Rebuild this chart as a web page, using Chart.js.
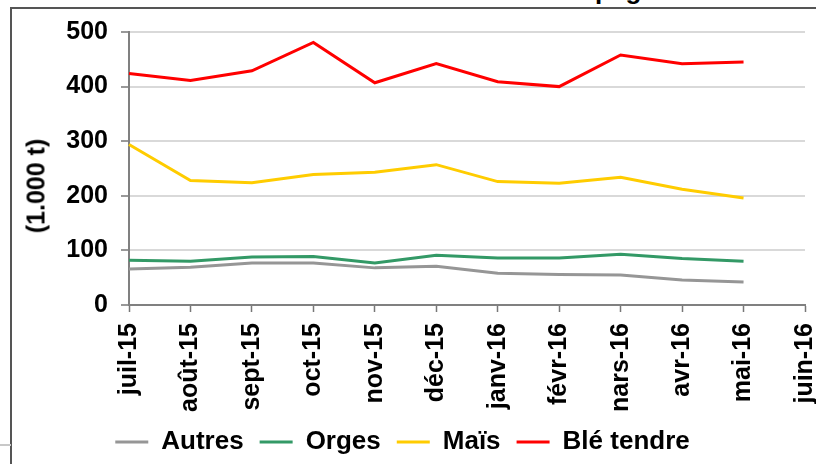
<!DOCTYPE html>
<html>
<head>
<meta charset="utf-8">
<script src="https://cdn.jsdelivr.net/npm/chart.js@4.4.1/dist/chart.umd.min.js"></script>
<style>
  body { margin: 0; background: #fff; }
  #wrap { position: relative; width: 816px; height: 464px; overflow: hidden; background: #fff; }
  #frame { position: absolute; left: 10px; top: 7px; width: 820px; height: 470px;
           border-left: 2px solid #555; border-top: 2px solid #555; }
  #stub { position: absolute; left: 0; top: 444px; width: 11px; height: 2px; background: #c8c8c8; }
  #title { position: absolute; left: 543px; top: -23px; font: bold 26px "Liberation Sans", Arial, sans-serif;
           line-height: 26px; white-space: nowrap; color: #000; }
  #ytitle { position: absolute; left: 36px; top: 186px; transform: translate(-50%, -50%) rotate(-90deg);
            font: bold 25px "Liberation Sans", Arial, sans-serif; white-space: nowrap; color: #000; }
  canvas { position: absolute; left: 0; top: 0; }
</style>
</head>
<body>
<div id="wrap">
  <div id="frame"></div>
  <div id="stub"></div>
  <div id="title">campagne</div>
  <canvas id="stockChart" width="816" height="465"></canvas>
  <div id="ytitle">(1.000 t)</div>
</div>
<script>
// months (last one has no data)
let months = ['juil-15', 'août-15', 'sept-15', 'oct-15', 'nov-15', 'déc-15',
              'janv-16', 'févr-16', 'nars-16', 'avr-16', 'mai-16', 'juin-16'];

// stocks in 1.000 t
let autres = [66, 69, 77, 77, 68, 71, 58, 56, 55, 46, 42];
let orges = [82, 80, 88, 89, 77, 91, 86, 86, 93, 85, 80];
let mais = [294, 228, 224, 239, 243, 257, 226, 223, 234, 212, 196];
let bleTendre = [424, 411, 429, 481, 407, 442, 409, 400, 458, 442, 445];

let yTicks = [0, 100, 200, 300, 400, 500];

let boldFont = { family: '"Liberation Sans", Arial, sans-serif', size: 25, weight: 'bold' };

let ctx = document.getElementById('stockChart').getContext('2d');

function serie(label, data, color) {
    return {
        label: label,
        data: data,
        borderColor: color,
        backgroundColor: color,
        borderWidth: 3,
        pointRadius: 0,
        tension: 0,
        fill: false
    };
}

let myChart = new Chart(ctx, {
    type: 'line',
    data: {
        labels: months,
        datasets: [
            serie('Autres', autres, '#969696'),
            serie('Orges', orges, '#339966'),
            serie('Maïs', mais, '#ffcc00'),
            serie('Blé tendre', bleTendre, '#ff0000')
        ]
    },
    options: {
        responsive: false,
        animation: false,
        layout: { padding: { top: 32, right: 11, left: 0, bottom: 0 } },
        plugins: {
            tooltip: { enabled: false },
            legend: {
                position: 'bottom',
                labels: {
                    color: '#000',
                    font: { family: boldFont.family, size: 26, weight: 'bold', lineHeight: 1 },
                    usePointStyle: true,
                    pointStyle: 'line',
                    pointStyleWidth: 33,
                    padding: 16
                }
            }
        },
        scales: {
            x: {
                offset: false,
                grid: { drawOnChartArea: false, drawTicks: true, tickLength: 7, tickColor: '#777', tickWidth: 1.5 },
                border: { color: '#808080', width: 2 },
                ticks: {
                    color: '#000',
                    font: boldFont,
                    autoSkip: false,
                    minRotation: 90,
                    maxRotation: 90,
                    padding: 11
                },
                afterFit: function (scale) {
                    scale.height = 108;
                    scale.paddingLeft = 0;
                    scale.paddingRight = 0;
                }
            },
            y: {
                min: 0,
                max: 500,
                afterBuildTicks: function (scale) {
                    scale.ticks = yTicks.map(v => ({ value: v }));
                },
                grid: { color: '#d9d9d9', lineWidth: 2, tickLength: 8, tickColor: '#777', tickWidth: 1.5 },
                border: { color: '#808080', width: 2 },
                ticks: {
                    color: '#000',
                    font: boldFont,
                    padding: 13
                },
                afterFit: function (scale) {
                    scale.width = 129;
                }
            }
        }
    }
});
</script>
</body>
</html>
